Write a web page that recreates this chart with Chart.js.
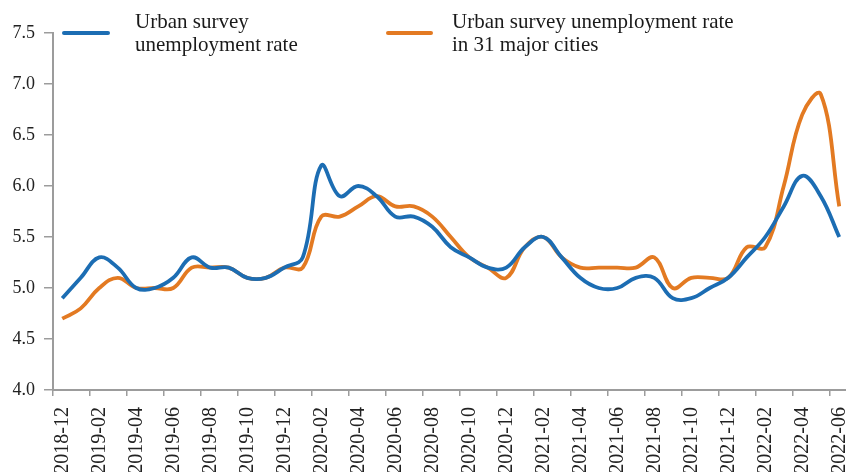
<!DOCTYPE html>
<html>
<head>
<meta charset="utf-8">
<script src="https://cdn.jsdelivr.net/npm/chart.js@4"></script>
<style>
  html, body { margin: 0; padding: 0; background: #fff; }
  body { width: 846px; height: 472px; overflow: hidden; position: relative; }
  #wrap { position: absolute; left: 0; top: 0; width: 850px; height: 472px; }
  .key { position: absolute; height: 4px; border-radius: 2px; }
  .lbl { position: absolute; font-family: "Liberation Serif", serif; font-size: 21px;
         line-height: 23px; color: #1a1a1a; white-space: nowrap; }
</style>
</head>
<body>
<div id="wrap"><canvas id="chart"></canvas></div>
<div class="key" style="left:62px; top:31px; width:48px; background:#1c6db3"></div>
<div class="lbl" style="left:135px; top:10px">Urban survey<br>unemployment rate</div>
<div class="key" style="left:386px; top:31px; width:47px; background:#e37a22"></div>
<div class="lbl" style="left:452px; top:10px">Urban survey unemployment rate<br>in 31 major cities</div>
<script>
const months = [
  '2018-12',
  '2019-01', '2019-02', '2019-03', '2019-04', '2019-05', '2019-06',
  '2019-07', '2019-08', '2019-09', '2019-10', '2019-11', '2019-12',
  '2020-01', '2020-02', '2020-03', '2020-04', '2020-05', '2020-06',
  '2020-07', '2020-08', '2020-09', '2020-10', '2020-11', '2020-12',
  '2021-01', '2021-02', '2021-03', '2021-04', '2021-05', '2021-06',
  '2021-07', '2021-08', '2021-09', '2021-10', '2021-11', '2021-12',
  '2022-01', '2022-02', '2022-03', '2022-04', '2022-05', '2022-06'
];

const urbanRate = [
  4.9,
  5.1, 5.3, 5.2, 5.0, 5.0, 5.1,
  5.3, 5.2, 5.2, 5.1, 5.1, 5.2,
  5.3, 6.2, 5.9, 6.0, 5.9, 5.7,
  5.7, 5.6, 5.4, 5.3, 5.2, 5.2,
  5.4, 5.5, 5.3, 5.1, 5.0, 5.0,
  5.1, 5.1, 4.9, 4.9, 5.0, 5.1,
  5.3, 5.5, 5.8, 6.1, 5.9, 5.5
];

const majorCitiesRate = [
  4.7,
  4.8, 5.0, 5.1, 5.0, 5.0, 5.0,
  5.2, 5.2, 5.2, 5.1, 5.1, 5.2,
  5.2, 5.7, 5.7, 5.8, 5.9, 5.8,
  5.8, 5.7, 5.5, 5.3, 5.2, 5.1,
  5.4, 5.5, 5.3, 5.2, 5.2, 5.2,
  5.2, 5.3, 5.0, 5.1, 5.1, 5.1,
  5.4, 5.4, 6.0, 6.7, 6.9, 5.8
];

const axisGrey = '#9c9c9c';

new Chart(document.getElementById('chart'), {
  type: 'line',
  data: {
    labels: months,
    datasets: [
      {
        label: 'Urban survey unemployment rate',
        data: urbanRate,
        borderColor: '#1c6db3',
        borderWidth: 3.8,
        pointRadius: 0,
        tension: 0.4
      },
      {
        label: 'Urban survey unemployment rate in 31 major cities',
        data: majorCitiesRate,
        borderColor: '#e37a22',
        borderWidth: 3.8,
        pointRadius: 0,
        tension: 0.4
      }
    ]
  },
  options: {
    responsive: true,
    maintainAspectRatio: false,
    animation: false,
    layout: { padding: { top: 33, right: 1.5, left: 0, bottom: 0 } },
    plugins: { legend: { display: false }, tooltip: { enabled: false } },
    scales: {
      x: {
        offset: true,
        grid: {
          offset: true,
          drawOnChartArea: false,
          tickLength: 6,
          lineWidth: 1.5,
          color: ctx => (ctx.index % 2 === 0 ? axisGrey : 'rgba(0,0,0,0)')
        },
        border: { color: axisGrey, width: 2 },
        ticks: {
          autoSkip: false,
          minRotation: 90,
          maxRotation: 90,
          padding: 11,
          color: '#222',
          font: { family: 'Liberation Serif', size: 20 },
          callback: function (value, index) {
            return index % 2 === 0 ? this.getLabelForValue(value) : '';
          }
        },
        afterFit: scale => {
          scale.height = 82;
          scale.paddingLeft = 0;
          scale.paddingRight = 0;
        }
      },
      y: {
        min: 4.0,
        max: 7.5,
        grid: {
          drawOnChartArea: false,
          tickLength: 9,
          lineWidth: 1.5,
          color: axisGrey
        },
        border: { color: axisGrey, width: 2 },
        ticks: {
          stepSize: 0.5,
          padding: 9,
          color: '#222',
          font: { family: 'Liberation Serif', size: 18 },
          callback: v => v.toFixed(1)
        },
        afterFit: scale => {
          scale.width = 53;
          scale.paddingTop = 0;
          scale.paddingBottom = 0;
        }
      }
    }
  }
});
</script>
</body>
</html>
